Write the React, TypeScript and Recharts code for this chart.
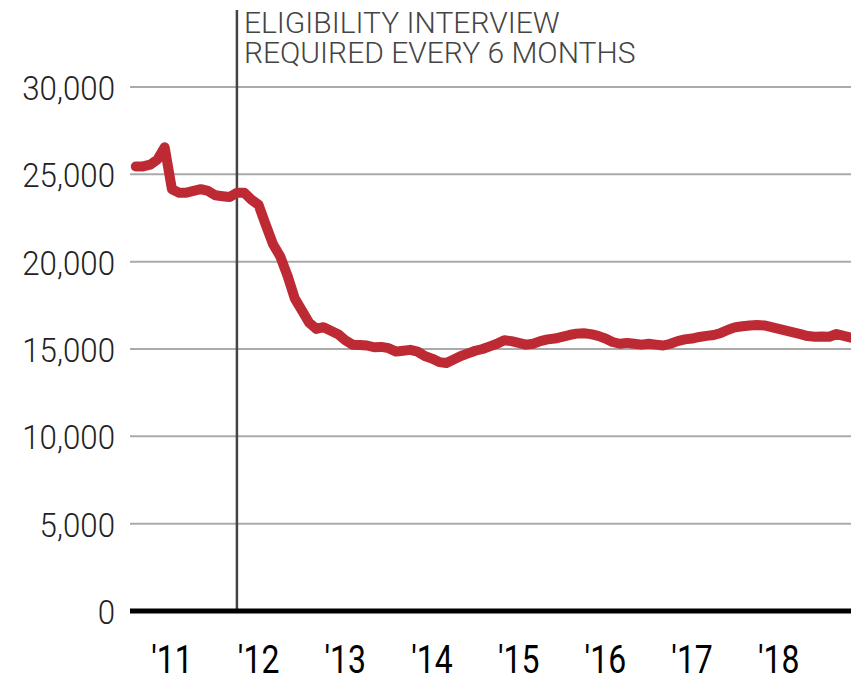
import React from "react";
import { LineChart, Line, XAxis, YAxis, CartesianGrid, ReferenceLine } from "recharts";

// month index: 0 = January 2011
const months: number[] = [
  -5, -4, -3, -2, -1, 0, 1, 2, 3, 4, 5, 6, 7, 8, 9, 10, 11, 12, 13, 14, 15, 16, 17, 18, 19,
  20, 21, 22, 23, 24, 25, 26, 27, 28, 29, 30, 31, 32, 33, 34, 35, 36, 37, 38, 39, 40, 41, 42, 43, 44,
  45, 46, 47, 48, 49, 50, 51, 52, 53, 54, 55, 56, 57, 58, 59, 60, 61, 62, 63, 64, 65, 66, 67, 68, 69,
  70, 71, 72, 73, 74, 75, 76, 77, 78, 79, 80, 81, 82, 83, 84, 85, 86, 87, 88, 89, 90, 91, 92, 93, 94,
];

const caseload: number[] = [
  25450, 25450, 25550, 25850, 26550, 24150, 23950, 23950, 24050, 24150, 24050, 23800, 23750, 23700, 23950,
  23950, 23550, 23250, 22100, 21000, 20300, 19200, 17900, 17200, 16500,
  16150, 16250, 16050, 15850, 15500, 15250, 15230, 15200, 15100, 15120, 15050, 14850, 14900, 14950, 14850,
  14600, 14450, 14250, 14200, 14400, 14600, 14750, 14900, 15000, 15150,
  15300, 15500, 15450, 15350, 15250, 15300, 15450, 15550, 15600, 15700, 15800, 15880, 15900, 15850, 15750,
  15600, 15400, 15300, 15350, 15300, 15250, 15300, 15250, 15200, 15300,
  15450, 15550, 15600, 15690, 15750, 15800, 15920, 16100, 16250, 16300, 16350, 16370, 16350, 16250, 16150,
  16050, 15950, 15850, 15740, 15700, 15720, 15700, 15860, 15750, 15650,
];

const yTicks: number[] = [0, 5000, 10000, 15000, 20000, 25000, 30000];
const xTicks: number[] = [0, 12, 24, 36, 48, 60, 72, 84];
const xTickLabels: string[] = ["'11", "'12", "'13", "'14", "'15", "'16", "'17", "'18"];

const policyMonth = 9; // October 2011
const annotationLines: string[] = ["ELIGIBILITY INTERVIEW", "REQUIRED EVERY 6 MONTHS"];

const data = months.map((m, i) => ({ m, v: caseload[i] }));

const fmt = (n: number) => n.toLocaleString("en-US");

const YTick = (props: any) => {
  const { x, y, payload } = props;
  return (
    <text
      transform={`translate(${x - 15},${y + 13}) scale(0.92,1)`}
      textAnchor="end"
      fontFamily="Roboto"
      fontWeight={300}
      fontSize={34}
      fill="#222"
    >
      {fmt(payload.value)}
    </text>
  );
};

const XTick = (props: any) => {
  const { x, y, payload } = props;
  const idx = xTicks.indexOf(payload.value);
  return (
    <text
      transform={`translate(${x},${y + 62}) scale(0.82,1)`}
      textAnchor="middle"
      fontFamily="Roboto"
      fontWeight={400}
      fontSize={39}
      fill="#000"
    >
      {xTickLabels[idx]}
    </text>
  );
};

const PolicyShape = (props: any) => {
  const { x1, y1, y2 } = props;
  const bottom = Math.max(y1, y2);
  return (
    <g>
      <line x1={x1} x2={x1} y1={10} y2={bottom} stroke="#444" strokeWidth={2.5} />
      {annotationLines.map((t, i) => (
        <text
          key={i}
          x={x1 + 7}
          y={33 + i * 29.5}
          fontFamily="Roboto"
          fontWeight={300}
          fontSize={30}
          fill="#444"
        >
          {t}
        </text>
      ))}
    </g>
  );
};

export default function App() {
  return (
    <div style={{ position: "absolute", left: 0, top: 0, width: 851, height: 679, background: "#fff" }}>
      <LineChart
        width={851}
        height={679}
        data={data}
        margin={{ top: 87, right: 0, bottom: 0, left: 0 }}
      >
        <CartesianGrid horizontal={true} vertical={false} stroke="#aaa" strokeWidth={2} />
        <XAxis
          type="number"
          dataKey="m"
          domain={[-5.8, 94]}
          ticks={xTicks}
          axisLine={false}
          tickLine={false}
          tickSize={0}
          tickMargin={0}
          height={68}
          tick={<XTick />}
          interval={0}
          allowDataOverflow
        />
        <YAxis
          type="number"
          domain={[0, 30000]}
          ticks={yTicks}
          axisLine={false}
          tickLine={false}
          tickSize={0}
          tickMargin={0}
          width={130}
          tick={<YTick />}
          interval={0}
        />
        <ReferenceLine x={policyMonth} shape={<PolicyShape />} />
        <ReferenceLine y={0} stroke="#000" strokeWidth={5} />
        <Line
          type="linear"
          dataKey="v"
          stroke="#be2a33"
          strokeWidth={10}
          strokeLinejoin="round"
          strokeLinecap="round"
          dot={false}
          isAnimationActive={false}
        />
      </LineChart>
    </div>
  );
}
